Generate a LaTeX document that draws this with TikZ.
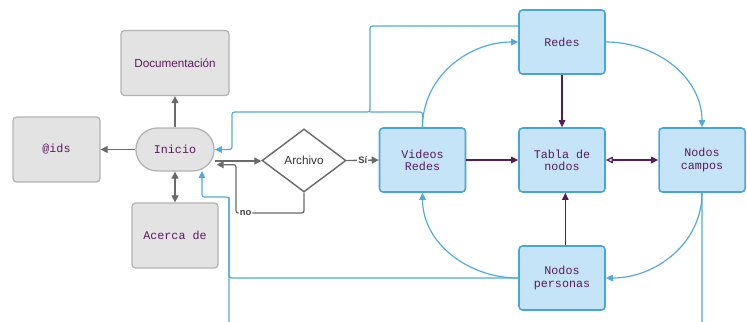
\documentclass[tikz,border=0pt]{standalone}
\usepackage{fontspec}
\setmainfont{Liberation Sans}
\setmonofont{Liberation Mono}
\usetikzlibrary{arrows.meta,shapes.geometric,shapes.misc}

\definecolor{menugray}{HTML}{E3E3E3}
\definecolor{menuedge}{HTML}{B3B3B3}
\definecolor{procblue}{HTML}{C5E4F7}
\definecolor{procedge}{HTML}{45A6DE}
\definecolor{linkblue}{HTML}{4FAADF}
\definecolor{txtpurple}{HTML}{5A1A5E}
\definecolor{flowgray}{HTML}{6A6A6A}

\begin{document}
\begin{tikzpicture}[
  menubox/.style={rectangle, draw=menuedge, line width=1.1pt, rounded corners=3pt,
    fill=menugray, minimum width=#1, minimum height=1.95cm, align=center,
    text=txtpurple, font=\ttfamily\fontsize{10}{11}\selectfont},
  menubox/.default=2.58cm,
  startbox/.style={rounded rectangle, draw=menuedge, line width=1.1pt, fill=menugray,
    minimum width=2.58cm, minimum height=1.29cm,
    text=txtpurple, font=\ttfamily\fontsize{10}{11}\selectfont},
  decision/.style={diamond, draw=flowgray, line width=1.2pt, fill=white, inner sep=0pt,
    minimum width=2.52cm, minimum height=1.89cm, text=black!80,
    font=\fontsize{10}{11}\selectfont},
  procbox/.style={rectangle, draw=procedge, line width=1.3pt, rounded corners=3pt,
    fill=procblue, minimum width=2.58cm, minimum height=1.92cm, align=center,
    text=txtpurple, font=\ttfamily\fontsize{10}{10.5}\selectfont},
  lbl/.style={fill=white, inner sep=1pt, text=black!75,
    font=\bfseries\fontsize{8}{9}\selectfont},
  arr/.style={->, >={Triangle[length=6pt,width=6pt]}, flowgray, line width=1.1pt},
  link/.style={->, >={Triangle[length=6pt,width=5.5pt]}, linkblue, line width=1pt,
    rounded corners=2pt},
  data/.style={->, >={Triangle[length=6pt,width=5.5pt]}, txtpurple, line width=1pt}
]
\clip (0,0) rectangle (22.41,-9.63);

% Menu around the start node
\node[menubox=3.24cm, font=\fontsize{10}{11}\selectfont] (doc) at (5.25,-1.89) {Documentación};
\node[menubox=2.61cm] (ids) at (1.695,-4.485) {@ids};
\node[startbox] (inicio) at (5.25,-4.485) {Inicio};
\node[menubox] (acerca) at (5.25,-7.065) {Acerca de};
\node[decision] (archivo) at (9.12,-4.815) {Archivo};

% Processing cycle
\node[procbox] (videos) at (12.675,-4.8) {Videos\\Redes};
\node[procbox] (redes) at (16.86,-1.26) {Redes};
\node[procbox] (tabla) at (16.86,-4.8) {Tabla de\\nodos};
\node[procbox] (campos) at (21.06,-4.8) {Nodos\\campos};
\node[procbox] (personas) at (16.86,-8.34) {Nodos\\personas};

% Bend points of the return lines
\coordinate (jn) at (11.1,-3.36);
\coordinate (upR) at (6.96,-3.36);
\coordinate (lowL) at (6.87,-5.91);
\coordinate (inicioB) at (6.06,-5.13);
\coordinate (offpage) at (6.87,-10.2);
\coordinate (outA) at (6.46,-4.83);
\coordinate (inA) at (6.5,-4.94);
\coordinate (noL) at (7.08,-6.39);

% Arrows: start node -> menu
\draw[arr] (inicio.north) -- (doc.south);
\draw[arr] (inicio.west) -- (ids.east);
\draw[arr, <->] (inicio.south) -- (acerca.north);
\draw[arr] (outA) -- (outA -| archivo.west);
\draw[arr, rounded corners=2pt] (archivo.south) |- node[lbl, pos=0.93] {no} (noL) |- (inA);
\draw[arr] (archivo.east) -- node[lbl] {Sí} (videos.west);

% Arrows: cycle around the table
\draw[link] (videos.north) to[out=90, in=180] (redes.west);
\draw[link] (redes.east) to[out=0, in=90] (campos.north);
\draw[link] (campos.south) to[out=-90, in=0] (personas.east);
\draw[link] (personas.west) to[out=180, in=-90] (videos.south);

% Arrows: back to the start node
\draw[link] ([yshift=4.8mm]redes.west) -| (jn) -- (upR) |- (inicio.east);
\draw[link, -] (videos.north) |- (jn);
\draw[link] (personas.west) -| (lowL) -| (inicioB);
\draw[link, -] (campos.south) |- (offpage) -- (lowL);

% Arrows: into the table
\draw[data] (videos.east) -- (tabla.west);
\draw[data] (redes.south) -- (tabla.north);
\draw[data] ([xshift=1mm]personas.north) -- ([xshift=1mm]tabla.south);
\draw[data, {Triangle[open,length=6pt,width=5.5pt]}-{Triangle[length=6pt,width=5.5pt]}] (tabla.east) -- (campos.west);

\end{tikzpicture}
\end{document}
